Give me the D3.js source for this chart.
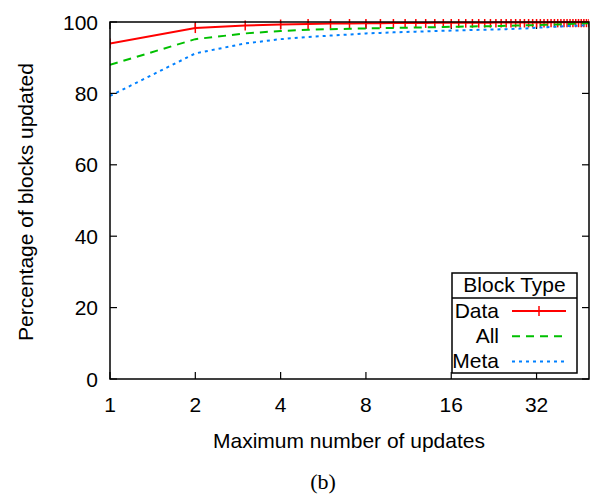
<!DOCTYPE html>
<html>
<head>
<meta charset="utf-8">
<script src="https://cdn.jsdelivr.net/npm/d3@7"></script>
<style>
  body { margin: 0; background: #fff; }
  text { font-family: "Liberation Sans", Arial, sans-serif; }
</style>
</head>
<body>
<svg id="chart-svg" width="593" height="498"></svg>
<script>
// x = maximum number of updates (1..49)
const updates = d3.range(1, 50)
const data_pct = [94.0, 98.3, 99.0, 99.3, 99.45, 99.55, 99.6, 99.65, 99.68, 99.7,
                  99.72, 99.74, 99.75, 99.76, 99.77, 99.78, 99.79, 99.8, 99.8, 99.81,
                  99.82, 99.82, 99.83, 99.84, 99.84, 99.85, 99.85, 99.86, 99.86, 99.87,
                  99.87, 99.88, 99.88, 99.89, 99.89, 99.9, 99.9, 99.9, 99.91, 99.91,
                  99.92, 99.92, 99.93, 99.93, 99.94, 99.94, 99.95, 99.95, 99.96]
const all_pct = [88.0, 95.2, 96.8, 97.5, 97.8, 98.0, 98.1, 98.2, 98.28, 98.35,
                 98.4, 98.45, 98.5, 98.55, 98.6, 98.65, 98.68, 98.72, 98.75, 98.78,
                 98.81, 98.84, 98.87, 98.9, 98.93, 98.96, 98.99, 99.02, 99.05, 99.08,
                 99.12, 99.15, 99.18, 99.21, 99.24, 99.27, 99.3, 99.33, 99.36, 99.39,
                 99.42, 99.45, 99.48, 99.51, 99.54, 99.57, 99.6, 99.63, 99.66]
const meta_pct = [79.3, 91.2, 94.0, 95.2, 95.8, 96.2, 96.5, 96.8, 96.95, 97.1,
                  97.2, 97.3, 97.38, 97.46, 97.53, 97.6, 97.65, 97.7, 97.75, 97.8,
                  97.84, 97.88, 97.92, 97.96, 98.0, 98.05, 98.1, 98.15, 98.2, 98.25,
                  98.32, 98.4, 98.45, 98.5, 98.55, 98.6, 98.65, 98.7, 98.75, 98.8,
                  98.84, 98.88, 98.92, 98.95, 98.98, 99.01, 99.04, 99.07, 99.1]
const x_ticks = [1, 2, 4, 8, 16, 32]
const y_ticks = [0, 20, 40, 60, 80, 100]

const series = [
    { name: "Data", values: data_pct, color: "#ff0000", dash: null, marker: true },
    { name: "All", values: all_pct, color: "#00c000", dash: "8,6", marker: false },
    { name: "Meta", values: meta_pct, color: "#0080ff", dash: "3,4", marker: false }
]

const svg = d3.select("#chart-svg")
const plot_l = 110, plot_r = 589, plot_t = 22, plot_b = 379
const font_size = 21

const x = d3.scaleLog().base(2).domain([1, 49]).range([plot_l, plot_r])
const y = d3.scaleLinear().domain([0, 100]).range([plot_b, plot_t])

const plot = svg.append("g")
const clip = svg.append("clipPath").attr("id", "plot-clip")
clip.append("rect").attr("x", plot_l).attr("y", plot_t - 3).attr("width", plot_r - plot_l).attr("height", plot_b - plot_t + 3)

// mirrored inward ticks, gnuplot style
const tick_len = 7
x_ticks.forEach(t => {
    plot.append("line").attr("x1", x(t)).attr("x2", x(t)).attr("y1", plot_b).attr("y2", plot_b - tick_len)
        .attr("stroke", "#000").attr("stroke-width", 1.2)
    plot.append("line").attr("x1", x(t)).attr("x2", x(t)).attr("y1", plot_t).attr("y2", plot_t + tick_len)
        .attr("stroke", "#000").attr("stroke-width", 1.2)
    plot.append("text").attr("x", x(t)).attr("y", 412).attr("text-anchor", "middle")
        .attr("font-size", font_size).text(t)
})
y_ticks.forEach(t => {
    plot.append("line").attr("x1", plot_l).attr("x2", plot_l + tick_len).attr("y1", y(t)).attr("y2", y(t))
        .attr("stroke", "#000").attr("stroke-width", 1.2)
    plot.append("line").attr("x1", plot_r).attr("x2", plot_r - tick_len).attr("y1", y(t)).attr("y2", y(t))
        .attr("stroke", "#000").attr("stroke-width", 1.2)
    plot.append("text").attr("x", 98).attr("y", y(t) + 7.5).attr("text-anchor", "end")
        .attr("font-size", font_size).text(t)
})

const line = d3.line().x((d, i) => x(updates[i])).y(d => y(d))
const lines = svg.append("g").attr("clip-path", "url(#plot-clip)")
series.forEach(s => {
    lines.append("path").attr("d", line(s.values)).attr("fill", "none")
        .attr("stroke", s.color).attr("stroke-width", 2)
        .attr("stroke-dasharray", s.dash)
    if (s.marker) {
        lines.selectAll(null).data(s.values).enter().append("line")
            .attr("x1", (d, i) => x(updates[i])).attr("x2", (d, i) => x(updates[i]))
            .attr("y1", d => y(d) - 5).attr("y2", d => y(d) + 5)
            .attr("stroke", s.color).attr("stroke-width", 1.5)
    }
})

// frame
svg.append("rect").attr("x", plot_l).attr("y", plot_t).attr("width", plot_r - plot_l).attr("height", plot_b - plot_t)
    .attr("fill", "none").attr("stroke", "#000").attr("stroke-width", 1.5)

// legend
const lg = svg.append("g")
const lg_l = 452, lg_r = 577, lg_t = 273, lg_mid = 298, lg_b = 373
lg.append("rect").attr("x", lg_l).attr("y", lg_t).attr("width", lg_r - lg_l).attr("height", lg_b - lg_t)
    .attr("fill", "#fff").attr("stroke", "#000").attr("stroke-width", 1.5)
lg.append("line").attr("x1", lg_l).attr("x2", lg_r).attr("y1", lg_mid).attr("y2", lg_mid)
    .attr("stroke", "#000").attr("stroke-width", 1.5)
lg.append("text").attr("x", (lg_l + lg_r) / 2).attr("y", 292).attr("text-anchor", "middle")
    .attr("font-size", font_size).text("Block Type")
series.forEach((s, i) => {
    const ly = 311 + i * 25.3
    lg.append("text").attr("x", 499).attr("y", ly + 6.5).attr("text-anchor", "end")
        .attr("font-size", font_size).text(s.name)
    lg.append("line").attr("x1", 512).attr("x2", 566).attr("y1", ly).attr("y2", ly)
        .attr("stroke", s.color).attr("stroke-width", 2).attr("stroke-dasharray", s.dash)
    if (s.marker) {
        lg.append("line").attr("x1", 539).attr("x2", 539).attr("y1", ly - 5).attr("y2", ly + 5)
            .attr("stroke", s.color).attr("stroke-width", 1.5)
    }
})

// axis titles
svg.append("text").attr("x", 349).attr("y", 448).attr("text-anchor", "middle")
    .attr("font-size", font_size).text("Maximum number of updates")
svg.append("text").attr("transform", "translate(33,202) rotate(-90)")
    .attr("text-anchor", "middle").attr("font-size", font_size).text("Percentage of blocks updated")
svg.append("text").attr("x", 323).attr("y", 489).attr("text-anchor", "middle")
    .style("font-family", "'Liberation Serif', 'Times New Roman', serif")
    .attr("font-size", 22).text("(b)")
</script>
</body>
</html>
